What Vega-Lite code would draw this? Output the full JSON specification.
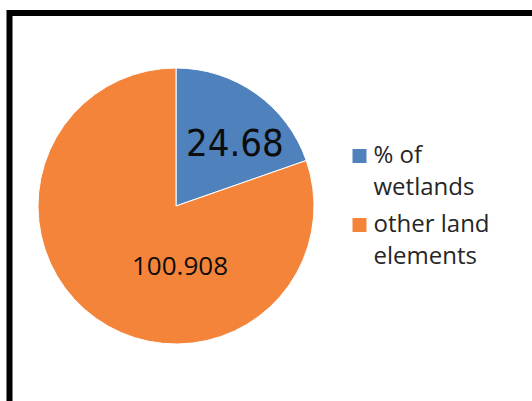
{
  "$schema": "https://vega.github.io/schema/vega-lite/v6.json",
  "autosize": "none",
  "width": 540,
  "height": 400,
  "padding": {"left": 9.5, "top": 13, "right": 0, "bottom": 0},
  "background": "white",
  "view": {"stroke": "black", "strokeWidth": 6, "fill": "white"},
  "config": {
    "view": {"stroke": "black", "strokeWidth": 6},
    "style": {"guide-label": {"lineHeight": 32}}
  },
  "data": {
    "values": [
      {"category": "% of wetlands", "value": 24.68},
      {"category": "other land elements", "value": 100.908}
    ]
  },
  "encoding": {
    "theta": {"field": "value", "type": "quantitative", "stack": true},
    "color": {
      "field": "category",
      "type": "nominal",
      "scale": {"domain": ["% of wetlands", "other land elements"], "range": ["#4F81BD", "#F3843A"]},
      "legend": {
        "title": null,
        "orient": "none",
        "legendX": 338,
        "legendY": 131,
        "padding": 0,
        "symbolType": "square",
        "symbolSize": 196,
        "symbolStrokeWidth": 0,
        "labelFont": "Open Sans",
        "labelFontSize": 24,
        "labelColor": "#262626",
        "labelOffset": 2,
        "labelLimit": 300,
        "rowPadding": 13,
        "labelExpr": "datum.label == '% of wetlands' ? ['% of', 'wetlands'] : ['other land', 'elements']"
      }
    }
  },
  "layer": [
    {
      "mark": {"type": "arc", "x": 166.5, "y": 193, "outerRadius": 138, "stroke": "white", "strokeWidth": 1}
    },
    {
      "mark": {"type": "text", "x": 166.5, "y": 193, "radius": 88, "dx": 8, "dy": 11, "font": "DejaVu Sans Condensed, sans-serif", "fontSize": 38, "color": "#0d0d0d", "align": "center", "baseline": "middle"},
      "encoding": {
        "text": {"condition": {"test": "datum.category == '% of wetlands'", "field": "value", "type": "quantitative", "format": ".2f"}, "value": ""},
        "color": {"value": "#0d0d0d"}
      }
    },
    {
      "mark": {"type": "text", "x": 170.5, "y": 254, "radius": 0, "font": "Open Sans", "fontSize": 26, "color": "#0d0d0d", "align": "center", "baseline": "middle"},
      "encoding": {
        "text": {"condition": {"test": "datum.category == 'other land elements'", "field": "value", "type": "quantitative", "format": ".3f"}, "value": ""},
        "color": {"value": "#0d0d0d"}
      }
    }
  ]
}
